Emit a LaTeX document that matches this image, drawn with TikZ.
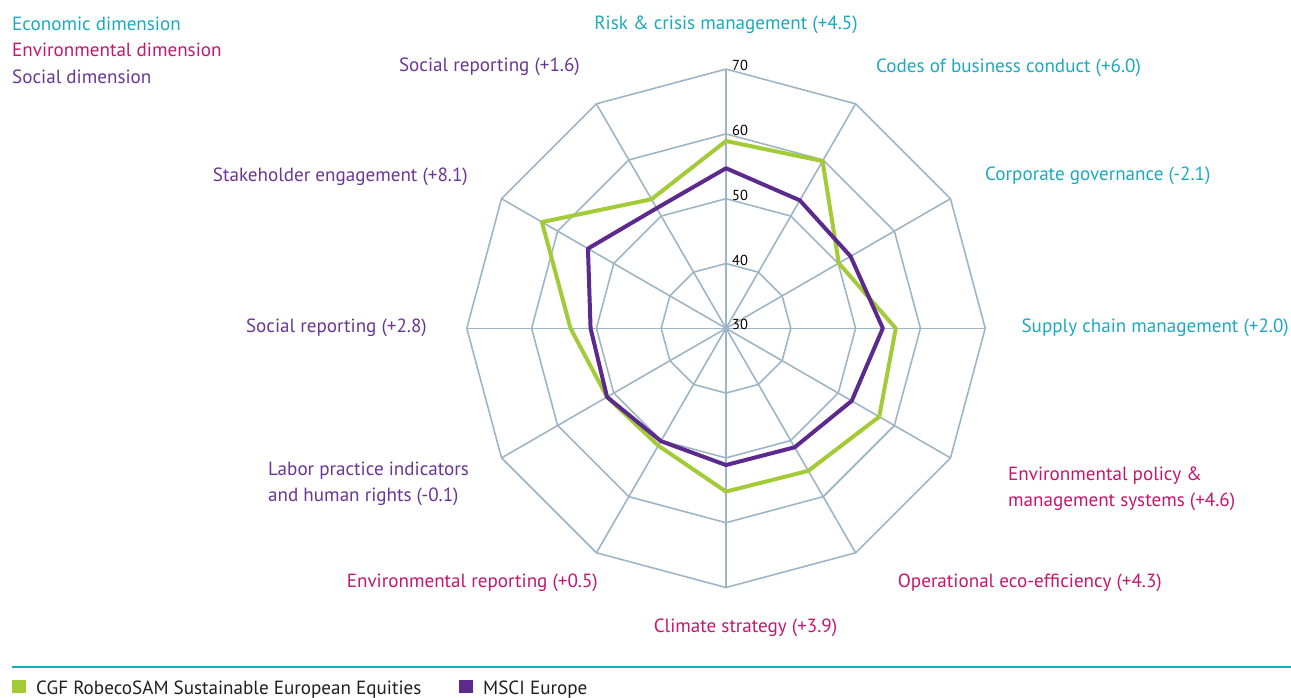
\documentclass[tikz,border=0pt]{standalone}
\usepackage{fontspec}
\setmainfont{PT Sans}
\definecolor{ecoC}{HTML}{1AA9BF}
\definecolor{envC}{HTML}{C4166E}
\definecolor{socC}{HTML}{6A3594}
\definecolor{gridC}{HTML}{9DB5C6}
\definecolor{greenC}{HTML}{A3CB38}
\definecolor{purpC}{HTML}{5B2A8C}
\definecolor{legC}{HTML}{231F20}
\begin{document}
\begin{tikzpicture}[x=1pt,y=-1pt,
  lbl/.style={inner sep=0pt,font=\fontsize{19.1}{21}\selectfont},
  eco/.style={lbl,text=ecoC},
  env/.style={lbl,text=envC},
  soc/.style={lbl,text=socC},
  tick/.style={inner sep=0pt,font=\fontsize{14.5}{16}\selectfont,anchor=base west},
  gridline/.style={draw=gridC,line width=1.6pt},
  series/.style={line width=4pt,line join=round}]
\useasboundingbox (0,0) rectangle (1291,697);
\def\cx{726}\def\cy{328.3}\def\u{6.48}
% grid rings
\foreach \v in {40,50,60,70}{
  \draw[gridline,line join=miter] \foreach \k in {0,...,11}{
    \ifnum\k=0 ({\cx+(\v-30)*\u*sin(30*\k)},{\cy-(\v-30)*\u*cos(30*\k)})\else
    -- ({\cx+(\v-30)*\u*sin(30*\k)},{\cy-(\v-30)*\u*cos(30*\k)})\fi} -- cycle;
}
\coordinate (c) at (\cx,\cy);
\foreach \k in {0,...,11}{
  \coordinate (s\k) at ({\cx+40*\u*sin(30*\k)},{\cy-40*\u*cos(30*\k)});
  \draw[gridline] (c) -- (s\k);
}
% series
\def\plotseries#1#2{%
  \foreach \v [count=\i from 0] in {#2}{
    \coordinate (#1\i) at ({\cx+(\v-30)*\u*sin(30*\i)},{\cy-(\v-30)*\u*cos(30*\i)});
  }%
}
\plotseries{g}{58.9,59.8,50.1,56.2,57.3,55.4,55.2,50.9,51.2,54.0,62.8,53.0}
\plotseries{p}{54.7,52.8,52.2,54.2,52.4,51.2,51.1,50.1,51.2,50.9,54.6,51.4}
\draw[series,draw=greenC] (g0)--(g1)--(g2)--(g3)--(g4)--(g5)--(g6)--(g7)--(g8)--(g9)--(g10)--(g11)--cycle;
\draw[series,draw=purpC] (p0)--(p1)--(p2)--(p3)--(p4)--(p5)--(p6)--(p7)--(p8)--(p9)--(p10)--(p11)--cycle;
% tick labels
\node[tick] (t30) at (732,329) {30};
\node[tick] (t40) at (732,265) {40};
\node[tick] (t50) at (732,200) {50};
\node[tick] (t60) at (732,135) {60};
\node[tick] (t70) at (732,70) {70};
% axis labels
\node[eco,anchor=base] (l0) at (726,29) {Risk \& crisis management (+4.5)};
\node[eco,anchor=base west] (l1) at (876,72) {Codes of business conduct (+6.0)};
\node[eco,anchor=base west] (l2) at (985,180) {Corporate governance (-2.1)};
\node[eco,anchor=base east] (l3) at (1289,332) {Supply chain management (+2.0)};
\node[env,anchor=base west] (l4a) at (1008,480) {Environmental policy \&};
\node[env,anchor=base west] (l4b) at (1008,506) {management systems (+4.6)};
\node[env,anchor=base east] (l5) at (1162,587) {Operational eco-efficiency (+4.3)};
\node[env,anchor=base] (l6) at (745.5,632) {Climate strategy (+3.9)};
\node[env,anchor=base east] (l7) at (598,587) {Environmental reporting (+0.5)};
\node[soc,anchor=base west] (l8a) at (268,475) {Labor practice indicators};
\node[soc,anchor=base west] (l8b) at (268,501) {and human rights (-0.1)};
\node[soc,anchor=base east] (l9) at (427,332) {Social reporting (+2.8)};
\node[soc,anchor=base east] (l10) at (468,181) {Stakeholder engagement (+8.1)};
\node[soc,anchor=base east] (l11) at (580,71) {Social reporting (+1.6)};
% dimension legend
\node[eco,anchor=base west] (d1) at (12,30) {Economic dimension};
\node[env,anchor=base west] (d2) at (12,56.5) {Environmental dimension};
\node[soc,anchor=base west] (d3) at (12,83) {Social dimension};
% bottom legend
\coordinate (ll) at (12,667);
\coordinate (lr) at (1291,667);
\draw[draw=ecoC,line width=2pt] (ll) -- (lr);
\fill[greenC] (12,680) rectangle (26,693);
\node[lbl,text=legC,anchor=base west] (k1) at (36,694) {CGF RobecoSAM Sustainable European Equities};
\fill[purpC] (459,680) rectangle (473,693);
\node[lbl,text=legC,anchor=base west] (k2) at (483,694) {MSCI Europe};
\end{tikzpicture}
\end{document}
